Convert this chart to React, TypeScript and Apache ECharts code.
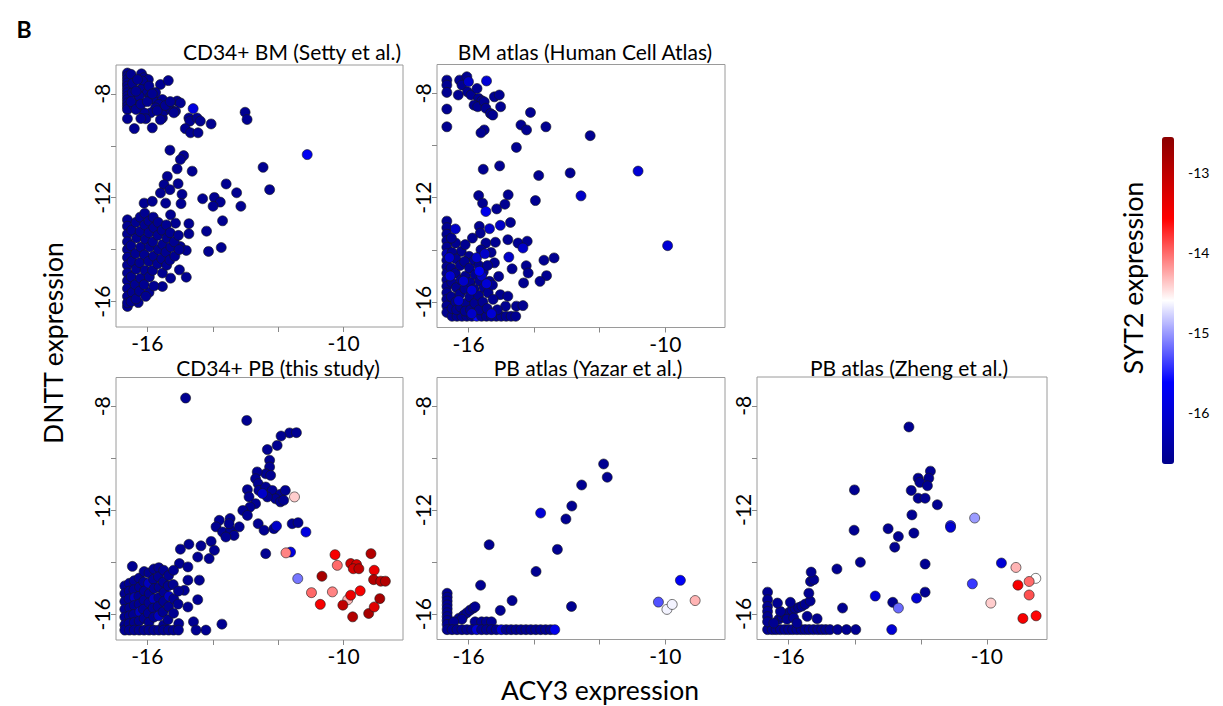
import React, { useEffect, useRef } from "react";
import * as echarts from "echarts";

// ---------- texts & ticks ----------
const panelTitles = [
  "CD34+ BM (Setty et al.)",
  "BM atlas (Human Cell Atlas)",
  "CD34+ PB (this study)",
  "PB atlas (Yazar et al.)",
  "PB atlas (Zheng et al.)",
];
const xTickValues = [-16, -14, -12, -10];
const xLabelValues = [-16, -10];
const yTickValues = [-16, -14, -12, -10, -8];
const yLabelValues = [-16, -12, -8];
const colorbarTicks = [-16, -15, -14, -13];
const syt2Min = -16.65;
const syt2Max = -12.55;
const syt2Colors = ["#00008b", "#0000ff", "#ffffff", "#ff0000", "#8b0000"];
const xLabel = "ACY3 expression";
const yLabel = "DNTT expression";
const colorLabel = "SYT2 expression";
const panelLetter = "B";

// ---------- data: [ACY3, DNTT, SYT2] ----------
const setty: number[][] = [
  [-16.61,-7.2,-16.6],[-16.61,-7.32,-16.6],[-16.61,-7.45,-16.6],[-16.61,-7.58,-16.6],[-16.61,-7.7,-16.6],[-16.61,-7.83,-16.6],[-16.61,-7.96,-16.6],[-16.61,-8.09,-16.6],[-16.61,-8.22,-16.6],[-16.61,-8.35,-16.6],[-16.61,-8.48,-16.6],[-16.61,-8.6,-16.6],[-16.61,-8.96,-16.6],
  [-16.18,-7.23,-16.6],[-16.1,-7.38,-16.6],[-15.97,-7.45,-16.6],[-16.15,-7.51,-16.6],[-16.2,-7.83,-16.6],[-16.0,-7.96,-16.6],[-15.9,-8.09,-16.6],[-15.8,-8.22,-16.6],[-15.6,-7.64,-16.6],[-15.36,-7.49,-16.6],[-15.54,-8.22,-16.6],[-15.65,-8.41,-16.6],[-15.75,-8.54,-16.6],[-15.9,-8.73,-16.6],[-16.1,-8.73,-16.6],[-16.05,-8.96,-16.6],[-15.85,-9.31,-16.6],[-16.4,-9.34,-16.6],[-15.54,-8.93,-16.6],[-15.49,-8.67,-16.6],[-15.29,-8.6,-16.6],[-15.09,-8.28,-16.6],[-14.99,-8.35,-16.6],[-15.14,-8.67,-16.6],[-15.19,-8.73,-16.6],[-14.73,-8.93,-16.6],[-14.7,-9.05,-16.6],[-14.48,-8.93,-16.6],[-14.38,-9.05,-16.6],[-14.84,-9.34,-16.6],[-14.68,-9.5,-16.6],[-14.45,-9.5,-16.6],[-14.05,-9.16,-16.6],[-13.01,-8.71,-16.6],[-12.95,-8.99,-16.6],[-16.4,-8.48,-16.6],[-16.3,-8.28,-16.6],[-16.46,-7.96,-16.6],[-16.25,-8.09,-16.6],[-16.5,-7.25,-16.6],[-16.45,-7.6,-16.6],[-16.35,-7.9,-16.6],[-16.5,-8.3,-16.6],[-16.35,-8.6,-16.6],[-16.2,-8.4,-16.6],[-16.3,-7.45,-16.6],[-15.95,-7.7,-16.6],[-15.75,-7.95,-16.6],[-15.7,-8.65,-16.6],[-15.45,-8.45,-16.6],[-15.3,-8.3,-16.6],[-15.6,-9.0,-16.6],[-16.2,-8.95,-16.6],[-16.0,-8.3,-16.6],[-15.85,-8.0,-16.6],
  [-14.6,-8.57,-15.9],[-11.11,-10.34,-15.75],
  [-15.31,-10.17,-16.6],[-14.89,-10.38,-16.6],[-14.99,-10.53,-16.6],[-15.09,-10.89,-16.6],[-14.63,-10.98,-16.6],[-15.39,-11.18,-16.6],[-15.49,-11.5,-16.6],[-15.06,-11.46,-16.6],[-15.31,-11.69,-16.6],[-15.6,-11.82,-16.6],[-14.94,-11.87,-16.6],[-12.46,-10.83,-16.6],[-12.26,-11.69,-16.6],[-13.59,-11.47,-16.6],[-13.27,-11.81,-16.6],[-13.14,-12.33,-16.6],[-13.95,-11.99,-16.6],[-13.77,-12.17,-16.6],[-14.31,-12.04,-16.6],[-13.99,-12.33,-16.6],[-13.7,-12.89,-16.6],[-14.19,-13.29,-16.6],[-14.13,-14.07,-16.6],[-13.74,-13.92,-16.6],[-14.97,-12.23,-16.6],[-16.1,-12.21,-16.6],[-15.85,-12.14,-16.6],[-15.44,-12.21,-16.6],[-15.29,-12.66,-16.6],[-14.73,-13.0,-16.6],[-14.73,-13.39,-16.6],[-15.14,-12.98,-16.6],[-14.99,-13.88,-16.6],[-14.81,-14.03,-16.6],[-15.02,-14.78,-16.6],[-14.81,-15.06,-16.6],[-15.29,-15.1,-16.6],[-15.54,-15.42,-16.6],[-15.95,-15.65,-16.6],[-16.28,-16.04,-16.6],[-16.61,-16.19,-16.6],
  [-16.61,-12.85,-16.6],[-16.61,-13.1,-16.6],[-16.61,-13.4,-16.6],[-16.61,-13.7,-16.6],[-16.61,-14.0,-16.6],[-16.61,-14.3,-16.6],[-16.61,-14.6,-16.6],[-16.61,-14.9,-16.6],[-16.61,-15.2,-16.6],[-16.61,-15.5,-16.6],[-16.61,-15.8,-16.6],[-16.61,-16.05,-16.6],
  [-16.48,-13.25,-16.6],[-16.5,-13.85,-16.6],[-16.47,-14.45,-16.6],[-16.49,-15.05,-16.6],[-16.46,-15.65,-16.6],[-16.5,-16.0,-16.6],
  [-16.35,-12.95,-16.6],[-16.33,-13.55,-16.6],[-16.36,-14.15,-16.6],[-16.34,-14.75,-16.6],[-16.37,-15.35,-16.6],[-16.35,-15.9,-16.6],
  [-16.22,-13.3,-16.6],[-16.2,-13.9,-16.6],[-16.23,-14.5,-16.6],[-16.21,-15.1,-16.6],[-16.24,-15.6,-16.6],[-16.22,-12.75,-16.6],
  [-16.08,-13.05,-16.6],[-16.06,-13.6,-16.6],[-16.09,-14.2,-16.6],[-16.07,-14.8,-16.6],[-16.1,-15.35,-16.6],[-16.05,-15.8,-16.6],[-16.08,-12.6,-16.6],
  [-15.95,-13.35,-16.6],[-15.93,-13.9,-16.6],[-15.96,-14.45,-16.6],[-15.94,-15.05,-16.6],[-15.95,-12.9,-16.6],
  [-15.82,-12.75,-16.6],[-15.8,-13.15,-16.6],[-15.83,-13.7,-16.6],[-15.81,-14.25,-16.6],[-15.84,-14.8,-16.6],[-15.8,-15.4,-16.6],
  [-15.68,-13.45,-16.6],[-15.66,-14.0,-16.6],[-15.69,-14.55,-16.6],[-15.67,-12.95,-16.6],
  [-15.55,-13.25,-16.6],[-15.53,-13.8,-16.6],[-15.56,-14.35,-16.6],[-15.54,-14.9,-16.6],
  [-15.42,-13.05,-16.6],[-15.4,-13.55,-16.6],[-15.43,-14.1,-16.6],[-15.41,-14.6,-16.6],
  [-15.3,-13.35,-16.6],[-15.28,-13.9,-16.6],[-15.31,-14.4,-16.6],[-15.18,-13.7,-16.6],[-15.16,-14.25,-16.6],[-15.05,-13.45,-16.6],[-15.03,-14.0,-16.6],
];

const hca: number[][] = [
  [-16.66,-7.49,-16.6],[-16.66,-7.68,-16.6],[-16.66,-7.96,-16.6],[-16.66,-8.6,-16.6],[-16.66,-9.28,-16.6],
  [-16.27,-7.49,-16.6],[-16.2,-7.68,-16.6],[-16.05,-7.36,-16.6],[-16.0,-7.55,-16.1],[-16.31,-8.06,-16.6],[-16.03,-7.94,-16.6],[-15.92,-8.06,-16.6],[-15.74,-7.81,-16.6],[-15.69,-8.19,-16.6],[-15.59,-8.28,-16.6],[-15.83,-8.45,-16.6],[-15.72,-8.51,-16.6],[-15.52,-8.32,-16.6],[-15.45,-7.52,-16.0],[-15.47,-8.57,-16.6],[-15.33,-8.77,-16.6],[-15.21,-8.13,-16.6],[-15.06,-8.06,-16.6],[-15.02,-8.51,-16.6],[-15.26,-8.83,-16.6],[-15.52,-9.4,-16.6],[-15.62,-9.51,-16.6],[-14.54,-10.07,-16.6],[-14.11,-8.73,-16.6],[-14.4,-9.21,-16.6],[-14.23,-9.4,-16.6],[-13.64,-9.28,-16.6],[-12.29,-9.62,-16.6],[-15.55,-10.91,-16.6],[-15.05,-10.78,-16.6],[-13.86,-11.15,-16.6],[-12.9,-11.05,-16.6],[-12.57,-11.93,-16.1],[-10.83,-10.98,-16.0],[-9.93,-13.84,-16.0],
  [-15.69,-11.92,-16.6],[-15.57,-12.21,-16.6],[-15.47,-12.53,-15.8],[-15.14,-12.43,-16.6],[-14.89,-12.25,-16.6],[-14.79,-11.89,-16.6],[-13.96,-12.11,-16.6],[-14.72,-12.95,-16.6],[-15.03,-13.06,-16.1],[-15.67,-13.1,-16.6],[-15.36,-13.19,-16.1],[-15.64,-13.36,-16.6],[-15.88,-13.55,-16.6],[-15.47,-13.74,-16.6],[-15.18,-13.71,-16.6],[-14.8,-13.61,-16.6],[-14.49,-13.74,-16.6],[-14.21,-13.67,-16.6],[-14.34,-13.93,-16.1],[-16.39,-13.74,-16.6],[-16.22,-14.06,-16.6],[-15.98,-14.25,-16.6],[-15.62,-14.0,-16.6],[-15.31,-14.1,-16.6],[-14.77,-14.28,-16.1],[-15.21,-14.5,-16.6],[-14.67,-14.73,-16.6],[-14.24,-14.61,-16.6],[-14.18,-14.89,-16.6],[-13.7,-14.4,-16.6],[-13.39,-14.31,-16.6],[-13.62,-14.99,-16.6],[-13.82,-15.21,-16.6],[-14.32,-15.27,-16.6],[-15.08,-15.02,-16.6],[-15.36,-15.21,-16.6],[-15.03,-15.72,-16.6],[-14.8,-15.78,-16.6],[-14.87,-16.16,-16.6],[-14.54,-16.16,-16.6],[-14.34,-16.14,-16.6],
  [-16.66,-12.9,-16.6],[-16.66,-13.15,-16.6],[-16.66,-13.4,-16.6],[-16.66,-13.65,-16.6],[-16.66,-13.9,-16.6],[-16.66,-14.15,-16.3],[-16.66,-14.4,-16.6],[-16.66,-14.65,-16.6],[-16.66,-14.9,-16.6],[-16.66,-15.15,-16.6],[-16.66,-15.4,-16.6],[-16.66,-15.65,-16.6],[-16.66,-15.9,-16.6],[-16.66,-16.15,-16.6],[-16.66,-16.4,-16.6],
  [-16.5,-16.55,-16.6],[-16.35,-16.55,-16.6],[-16.2,-16.55,-16.6],[-16.05,-16.55,-16.6],[-15.9,-16.55,-16.6],[-15.75,-16.55,-15.6],[-15.6,-16.55,-16.6],[-15.45,-16.55,-16.6],[-15.3,-16.55,-16.6],[-15.15,-16.55,-16.6],[-15.0,-16.55,-16.6],[-14.85,-16.55,-16.6],[-14.7,-16.55,-16.6],[-14.56,-16.55,-16.6],
  [-16.52,-13.55,-16.6],[-16.5,-14.1,-16.6],[-16.53,-14.7,-16.6],[-16.51,-15.25,-16.6],[-16.52,-15.8,-16.6],[-16.5,-16.25,-16.6],
  [-16.38,-14.35,-16.6],[-16.4,-14.9,-16.6],[-16.37,-15.45,-16.6],[-16.39,-16.0,-16.6],[-16.36,-16.3,-16.6],
  [-16.25,-14.6,-16.6],[-16.23,-15.15,-16.6],[-16.26,-15.7,-16.6],[-16.24,-16.2,-16.6],
  [-16.1,-13.8,-16.6],[-16.12,-14.45,-16.6],[-16.09,-15.0,-16.6],[-16.11,-15.5,-16.6],[-16.08,-16.05,-16.6],[-16.1,-16.35,-16.6],
  [-15.97,-14.7,-16.6],[-15.95,-15.25,-16.6],[-15.96,-15.8,-16.6],[-15.94,-16.3,-16.6],
  [-15.82,-14.4,-16.6],[-15.8,-14.95,-16.6],[-15.83,-15.5,-16.6],[-15.81,-16.05,-16.6],
  [-15.68,-14.6,-16.6],[-15.66,-15.2,-16.6],[-15.69,-15.75,-16.6],[-15.67,-16.3,-16.6],
  [-15.55,-14.85,-16.6],[-15.53,-15.45,-16.6],[-15.56,-16.0,-16.6],[-15.42,-14.6,-16.6],[-15.4,-15.65,-16.6],[-15.43,-16.25,-16.6],[-15.27,-15.35,-16.6],[-15.25,-15.9,-16.6],[-15.12,-16.3,-16.6],
  [-16.58,-14.3,-16.1],[-16.56,-15.0,-16.0],[-16.3,-15.95,-16.1],[-16.15,-15.2,-16.1],[-15.9,-15.55,-16.0],[-15.75,-14.3,-16.1],[-15.6,-15.0,-16.1],[-15.9,-16.45,-16.1],[-15.45,-15.3,-16.0],[-16.4,-13.2,-16.1],[-15.5,-14.15,-16.1],[-15.3,-16.45,-16.0],
  [-15.67,-14.82,-15.7],
];

const thisStudy: number[][] = [
  [-14.83,-7.68,-16.6],[-12.96,-8.54,-16.6],[-11.65,-9.02,-16.6],[-11.44,-9.01,-16.6],[-11.91,-9.14,-16.6],[-12.03,-9.5,-16.6],[-12.33,-9.66,-16.6],[-12.26,-10.07,-16.6],[-12.26,-10.33,-16.6],[-12.38,-10.59,-16.6],[-12.23,-10.65,-16.6],[-12.64,-10.52,-16.6],[-12.69,-10.78,-16.6],[-12.61,-10.97,-16.6],[-12.94,-11.2,-16.6],[-12.59,-11.23,-16.6],[-12.38,-11.1,-16.6],[-12.18,-11.23,-16.6],[-11.93,-11.38,-16.6],[-11.78,-11.23,-16.6],[-12.08,-11.55,-16.6],[-11.93,-11.67,-16.6],[-12.33,-11.48,-16.6],[-12.48,-11.35,-16.1],[-12.89,-11.48,-16.6],[-12.69,-11.74,-16.6],[-12.86,-11.87,-16.6],[-13.08,-12.0,-16.6],[-12.94,-12.19,-16.6],[-12.61,-12.51,-16.6],[-12.43,-12.76,-16.6],[-12.13,-12.7,-16.6],[-12.05,-12.6,-16.1],[-11.57,-12.51,-16.6],[-11.39,-12.47,-16.6],[-11.15,-12.83,-15.9],[-11.83,-11.61,-16.6],
  [-12.38,-13.66,-16.6],[-11.62,-13.6,-15.9],
  [-13.47,-12.31,-16.6],[-13.8,-12.38,-16.6],[-13.9,-12.63,-16.6],[-13.7,-12.83,-16.6],[-13.45,-12.76,-16.6],[-13.19,-12.63,-16.6],[-13.5,-12.51,-16.6],[-13.35,-12.96,-16.6],[-13.6,-13.02,-16.6],[-14.05,-13.19,-16.6],[-13.95,-13.53,-16.6],[-14.11,-13.85,-16.6],[-14.36,-13.36,-16.6],[-14.46,-13.79,-16.6],[-14.73,-13.3,-16.6],[-14.99,-13.49,-16.6],[-15.02,-14.04,-16.6],[-14.76,-14.17,-16.6],[-14.41,-14.68,-16.6],[-14.76,-14.68,-16.6],[-14.87,-15.07,-16.6],[-14.46,-15.43,-16.6],[-14.76,-15.71,-16.6],[-14.59,-16.28,-16.6],[-14.21,-16.6,-16.6],[-13.72,-16.37,-16.6],[-14.51,-16.6,-16.6],[-16.46,-14.15,-16.6],
  [-16.69,-14.9,-16.6],[-16.69,-15.2,-16.6],[-16.69,-15.5,-16.6],[-16.69,-15.8,-16.6],[-16.69,-16.1,-16.6],[-16.69,-16.4,-16.6],[-16.69,-16.6,-16.6],
  [-16.55,-14.8,-16.6],[-16.55,-15.1,-16.6],[-16.56,-15.4,-16.6],[-16.54,-15.75,-16.6],[-16.55,-16.05,-16.6],[-16.56,-16.35,-16.6],[-16.55,-16.6,-16.6],
  [-16.4,-14.7,-16.6],[-16.41,-15.05,-16.6],[-16.39,-15.35,-16.2],[-16.4,-15.65,-16.6],[-16.42,-16.0,-16.6],[-16.4,-16.3,-16.6],[-16.4,-16.6,-16.6],
  [-16.25,-14.6,-16.6],[-16.24,-14.95,-16.6],[-16.26,-15.3,-16.6],[-16.25,-15.6,-16.6],[-16.23,-15.9,-16.2],[-16.25,-16.25,-16.6],[-16.25,-16.6,-16.6],
  [-16.1,-14.35,-16.6],[-16.11,-14.75,-16.6],[-16.09,-15.1,-16.6],[-16.1,-15.45,-16.6],[-16.12,-15.8,-16.6],[-16.1,-16.15,-16.6],[-16.1,-16.6,-16.6],
  [-15.95,-14.4,-16.6],[-15.96,-14.8,-16.2],[-15.94,-15.2,-16.6],[-15.95,-15.55,-16.6],[-15.97,-15.95,-16.6],[-15.95,-16.3,-16.6],[-15.95,-16.6,-16.6],
  [-15.8,-14.25,-16.6],[-15.81,-14.65,-16.6],[-15.79,-15.0,-16.6],[-15.8,-15.4,-16.2],[-15.82,-15.75,-16.6],[-15.8,-16.1,-16.6],[-15.8,-16.6,-16.6],
  [-15.65,-14.2,-16.6],[-15.66,-14.55,-16.6],[-15.64,-14.95,-16.6],[-15.65,-15.35,-16.6],[-15.67,-15.7,-16.6],[-15.65,-16.05,-16.2],[-15.65,-16.6,-16.6],
  [-15.5,-14.3,-16.6],[-15.51,-14.75,-16.6],[-15.49,-15.15,-16.6],[-15.5,-15.5,-16.6],[-15.52,-15.9,-16.6],[-15.5,-16.4,-16.6],[-15.5,-16.6,-16.6],
  [-15.35,-14.5,-16.6],[-15.36,-14.9,-16.6],[-15.34,-15.3,-16.2],[-15.35,-15.7,-16.6],[-15.37,-16.2,-16.6],[-15.35,-16.6,-16.6],
  [-15.2,-14.3,-16.6],[-15.21,-14.85,-16.6],[-15.19,-15.4,-16.6],[-15.2,-15.95,-16.6],[-15.2,-16.6,-16.6],
  [-15.05,-15.1,-16.6],[-15.06,-15.6,-16.6],[-15.04,-16.35,-16.6],[-15.05,-16.6,-16.6],
  [-11.4,-14.62,-15.15],[-11.76,-13.63,-14.1],[-11.5,-11.48,-14.4],
  [-10.19,-14.11,-14.0],[-10.98,-15.16,-14.0],[-10.34,-15.13,-14.1],[-9.87,-15.43,-14.3],
  [-10.26,-13.7,-13.5],[-10.66,-14.53,-12.8],[-10.71,-15.61,-13.5],[-10.02,-15.64,-13.0],[-9.78,-15.26,-13.4],[-9.72,-16.09,-12.9],[-9.78,-14.04,-13.1],[-9.6,-14.08,-13.2],[-9.7,-14.24,-13.2],[-9.53,-14.24,-13.0],[-9.49,-15.09,-13.5],[-9.23,-15.96,-12.8],[-9.16,-13.66,-12.9],[-9.06,-14.3,-13.4],[-9.08,-14.66,-12.9],[-8.89,-15.39,-12.8],[-9.06,-15.71,-13.3],[-8.86,-14.72,-13.0],[-8.72,-14.72,-12.9],
];

const yazar: number[][] = [
  [-11.88,-10.22,-16.6],[-11.77,-10.73,-16.6],[-12.55,-11.03,-16.6],[-12.85,-11.84,-16.6],[-13.03,-12.34,-16.6],[-13.8,-12.11,-16.0],[-13.29,-13.51,-16.6],[-15.37,-13.33,-16.6],[-13.94,-14.36,-16.6],[-15.63,-14.89,-16.6],[-14.67,-15.48,-16.6],[-15.03,-15.86,-16.6],[-12.86,-15.71,-16.6],
  [-16.65,-15.2,-16.6],[-16.65,-15.35,-16.6],[-16.65,-15.5,-16.6],[-16.65,-15.65,-16.6],[-16.65,-15.8,-16.6],[-16.65,-15.95,-16.6],[-16.65,-16.1,-16.6],[-16.65,-16.25,-16.6],[-16.65,-16.4,-16.6],
  [-16.29,-16.16,-16.6],[-16.15,-16.05,-16.6],[-16.05,-15.95,-16.6],[-15.95,-15.85,-16.6],[-15.85,-15.77,-16.6],[-15.8,-15.72,-16.6],[-16.2,-16.2,-16.6],[-16.45,-16.3,-16.6],
  [-15.8,-16.3,-16.6],[-15.6,-16.3,-16.6],[-15.45,-16.3,-16.6],[-15.3,-16.3,-16.6],
  [-16.65,-16.6,-16.6],[-16.5,-16.6,-16.6],[-16.35,-16.6,-16.6],[-16.2,-16.6,-16.6],[-16.05,-16.6,-16.6],[-15.9,-16.6,-16.6],[-15.75,-16.6,-16.0],[-15.6,-16.6,-16.6],[-15.45,-16.6,-16.6],[-15.3,-16.6,-16.6],[-15.15,-16.6,-16.6],[-15.0,-16.6,-16.0],[-14.85,-16.6,-16.6],[-14.7,-16.6,-16.6],[-14.55,-16.6,-16.6],[-14.4,-16.6,-16.6],[-14.25,-16.6,-16.6],[-14.1,-16.6,-16.6],[-13.95,-16.6,-16.6],[-13.8,-16.6,-16.6],[-13.65,-16.6,-16.6],[-13.5,-16.6,-16.6],[-13.37,-16.6,-15.8],
  [-9.54,-14.7,-15.7],[-10.21,-15.54,-15.3],[-9.95,-15.82,-14.65],[-9.79,-15.63,-14.65],[-9.09,-15.48,-14.3],
];

const zheng: number[][] = [
  [-12.36,-8.81,-16.6],[-11.71,-10.51,-16.6],[-11.76,-10.78,-16.6],[-12.08,-10.78,-16.6],[-12.03,-10.94,-16.6],[-11.8,-11.07,-16.6],[-12.29,-11.25,-16.6],[-12.08,-11.55,-16.6],[-11.87,-11.55,-16.6],[-11.5,-11.8,-16.6],[-12.27,-12.19,-16.6],[-12.21,-12.89,-16.6],[-14.01,-11.23,-16.6],[-14.02,-12.78,-16.6],[-12.99,-12.72,-16.6],[-12.68,-13.02,-16.6],[-12.79,-13.43,-16.6],[-13.83,-14.01,-16.6],[-14.54,-14.27,-16.6],[-11.87,-14.08,-16.6],[-11.87,-15.16,-16.6],[-12.85,-15.55,-16.6],[-14.37,-15.77,-16.6],
  [-12.13,-15.39,-16.0],[-13.38,-15.31,-16.0],[-12.88,-16.6,-16.0],[-12.68,-15.77,-15.2],
  [-16.64,-16.6,-16.6],[-16.5,-16.6,-16.6],[-16.38,-16.6,-16.6],[-16.25,-16.6,-16.6],[-16.12,-16.6,-16.6],[-16.0,-16.6,-16.6],[-15.88,-16.6,-16.6],[-15.75,-16.6,-16.6],[-15.62,-16.6,-16.6],[-15.5,-16.6,-16.6],[-15.38,-16.6,-16.6],[-15.25,-16.6,-16.6],[-15.12,-16.6,-16.6],[-15.0,-16.6,-16.6],[-14.88,-16.6,-16.6],[-14.75,-16.6,-16.6],[-14.52,-16.6,-16.6],[-14.25,-16.6,-16.6],[-13.97,-16.6,-16.6],
  [-16.64,-15.16,-16.6],[-16.64,-15.45,-16.6],[-16.64,-15.71,-16.6],[-16.64,-15.9,-16.6],[-16.64,-16.1,-16.6],[-16.64,-16.3,-16.6],
  [-16.3,-16.2,-16.6],[-16.2,-16.1,-16.6],[-16.1,-16.05,-16.6],[-16.0,-15.95,-16.6],[-15.9,-15.85,-16.6],[-15.8,-15.8,-16.6],[-15.7,-15.75,-16.6],[-15.6,-15.7,-16.6],[-15.5,-15.62,-16.6],[-16.25,-15.9,-16.6],[-16.05,-16.2,-16.6],[-15.85,-16.15,-16.6],[-15.44,-16.09,-16.6],[-15.14,-16.18,-16.6],[-15.35,-15.5,-16.6],[-15.39,-15.2,-16.6],[-15.34,-14.75,-16.6],[-15.24,-14.68,-16.6],[-15.32,-14.39,-16.6],[-16.34,-15.58,-16.6],[-15.95,-15.55,-16.6],[-15.75,-16.35,-16.6],[-16.45,-16.35,-16.6],
  [-11.1,-12.6,-15.5],[-11.1,-12.67,-16.0],[-10.37,-12.31,-15.0],[-10.44,-14.84,-15.4],[-9.56,-14.04,-16.0],
  [-9.12,-14.21,-14.3],[-8.52,-14.63,-14.6],[-8.72,-14.75,-14.0],[-8.72,-15.27,-13.9],[-9.88,-15.58,-14.4],[-9.06,-14.89,-13.5],[-8.91,-16.17,-13.5],[-8.51,-16.07,-13.6],
];

const panelData = [setty, hca, thisStudy, yazar, zheng];

// ---------- layout ----------
const grids = [
  { left: 116, top: 65, width: 287, height: 262 },
  { left: 437, top: 64.5, width: 288, height: 263 },
  { left: 116, top: 377.5, width: 287, height: 262.5 },
  { left: 437, top: 377.5, width: 288, height: 262 },
  { left: 757, top: 377, width: 290, height: 262.5 },
];
const titlePos = [
  [292, 51], [585, 51], [278, 367], [588, 367], [909, 367],
];
const xRange = [-16.96, -8.18];
const yRange = [-16.98, -6.89];
const FONT = "Lato, 'Liberation Sans', sans-serif";

export default function App() {
  const ref = useRef<HTMLDivElement>(null);
  useEffect(() => {
    if (!ref.current) return;
    const chart = echarts.init(ref.current, undefined, { renderer: "svg" });

    const gridOpts: any[] = grids.map((g) => ({
      ...g,
      show: true,
      borderColor: "#9a9a9a",
      borderWidth: 1,
      backgroundColor: "#fff",
      containLabel: false,
    }));
    gridOpts.push({ left: 1162, top: 137, width: 12, height: 327, show: false });

    const xAxes: any[] = grids.map((_, i) => ({
      type: "value",
      gridIndex: i,
      min: xRange[0],
      max: xRange[1],
      axisLine: { show: false, onZero: false },
      splitLine: { show: false },
      axisTick: { show: true, customValues: xTickValues, length: 5, lineStyle: { color: "#888" } },
      axisLabel: { customValues: xLabelValues, fontSize: 21, lineHeight: 15, color: "#000", margin: 8, fontFamily: FONT },
    }));
    xAxes.push({ type: "value", gridIndex: 5, show: false, min: 0, max: 1 });

    const yAxes: any[] = grids.map((_, i) => ({
      type: "value",
      gridIndex: i,
      min: yRange[0],
      max: yRange[1],
      axisLine: { show: false, onZero: false },
      splitLine: { show: false },
      axisTick: { show: true, customValues: yTickValues, length: 5, lineStyle: { color: "#888" } },
      axisLabel: { customValues: yLabelValues, fontSize: 21, lineHeight: 16, color: "#000", margin: 7, rotate: 90, fontFamily: FONT },
    }));
    yAxes.push({
      type: "value",
      gridIndex: 5,
      position: "right",
      min: syt2Min,
      max: syt2Max,
      axisLine: { show: false },
      splitLine: { show: false },
      axisTick: { show: true, customValues: colorbarTicks, length: 4, lineStyle: { color: "#aaa" } },
      axisLabel: { customValues: colorbarTicks, fontSize: 14, color: "#000", margin: 14, fontFamily: FONT },
    });

    const series: any[] = panelData.map((d, i) => ({
      type: "scatter",
      xAxisIndex: i,
      yAxisIndex: i,
      data: d,
      symbolSize: 10,
      itemStyle: { borderColor: "#1a1a1a", borderWidth: 0.6, opacity: 1 },
      emphasis: { disabled: true },
    }));
    series.push({ type: "scatter", xAxisIndex: 5, yAxisIndex: 5, data: [] });

    const graphics: any[] = panelTitles.map((t, i) => ({
      type: "text",
      x: titlePos[i][0],
      y: titlePos[i][1],
      style: { text: t, fontSize: 21, lineHeight: 17, fontFamily: FONT, fill: "#000", textAlign: "center", textVerticalAlign: "middle" },
    }));
    graphics.push(
      { type: "text", x: 600, y: 690, style: { text: xLabel, fontSize: 26.5, fontFamily: FONT, fill: "#000", textAlign: "center", textVerticalAlign: "middle" } },
      { type: "text", x: 53, y: 343, rotation: Math.PI / 2, style: { text: yLabel, fontSize: 26.5, fontFamily: FONT, fill: "#000", textAlign: "center", textVerticalAlign: "middle" } },
      { type: "text", x: 1133, y: 278, rotation: Math.PI / 2, style: { text: colorLabel, fontSize: 26.5, fontFamily: FONT, fill: "#000", textAlign: "center", textVerticalAlign: "middle" } },
      { type: "text", x: 24, y: 29, style: { text: panelLetter, fontSize: 23, fontWeight: "bold", fontFamily: FONT, fill: "#000", textAlign: "center", textVerticalAlign: "middle" } },
    );

    chart.setOption({
      animation: false,
      backgroundColor: "#fff",
      grid: gridOpts,
      xAxis: xAxes,
      yAxis: yAxes,
      visualMap: {
        type: "continuous",
        min: syt2Min,
        max: syt2Max,
        dimension: 2,
        seriesIndex: [0, 1, 2, 3, 4],
        inRange: { color: syt2Colors },
        orient: "vertical",
        left: 1162,
        top: 137,
        itemWidth: 12,
        itemHeight: 327,
        padding: 0,
        calculable: false,
        hoverLink: false,
        text: ["", ""],
        showLabel: false,
      },
      series,
      graphic: graphics,
    });
    return () => chart.dispose();
  }, []);
  return <div ref={ref} style={{ position: "absolute", left: 0, top: 0, width: 1223, height: 706 }} />;
}
